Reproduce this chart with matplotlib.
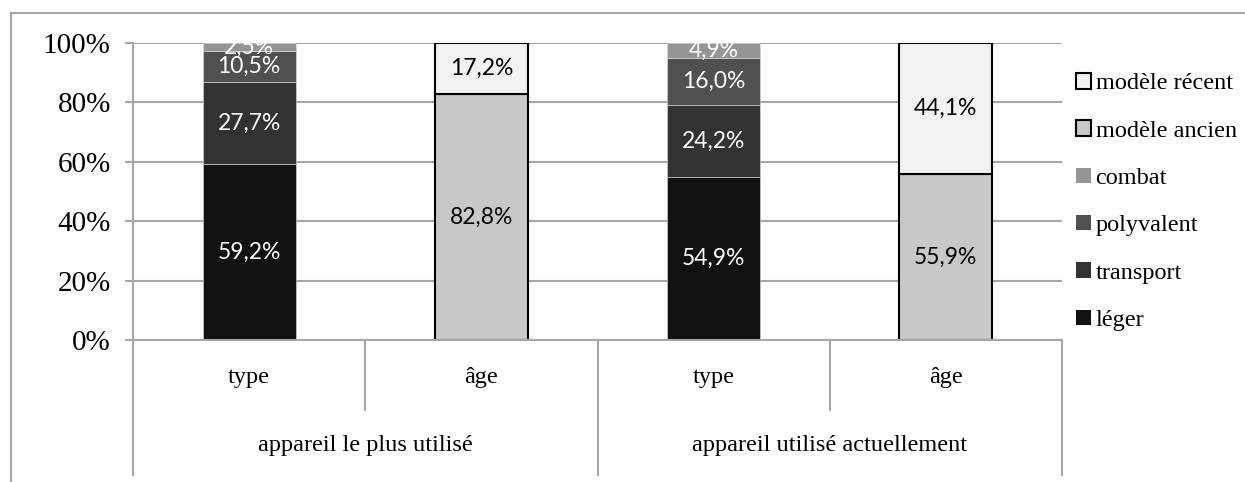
import matplotlib
matplotlib.use("Agg")
import matplotlib.pyplot as plt
from matplotlib.patches import Patch
import matplotlib.transforms as mtransforms

# ---- data ----
sub_labels = ["type", "âge", "type", "âge"]
group_labels = ["appareil le plus utilisé", "appareil utilisé actuellement"]

# type bars (bottom -> top)
type_series = ["léger", "transport", "polyvalent", "combat"]
type_values_1 = [59.2, 27.7, 10.5, 2.5]
type_values_2 = [54.9, 24.2, 16.0, 4.9]
# age bars (bottom -> top)
age_series = ["modèle ancien", "modèle récent"]
age_values_1 = [82.8, 17.2]
age_values_2 = [55.9, 44.1]

yticks = [0, 20, 40, 60, 80, 100]
ytick_labels = ["0%", "20%", "40%", "60%", "80%", "100%"]

type_colors = ["#111111", "#323232", "#505050", "#959595"]
age_colors = ["#c8c8c8", "#f2f2f2"]
grid_col = "#a6a6a6"

serif = ["Liberation Serif", "DejaVu Serif"]
sans = ["Lato", "DejaVu Sans"]

W, H = 1245, 482
fig = plt.figure(figsize=(W / 100, H / 100), dpi=100)
ax = fig.add_axes([133 / W, 1 - 340 / H, (1062 - 133) / W, (340 - 43) / H])

ax.set_xlim(0, 4)
ax.set_ylim(0, 100)
ax.set_yticks(yticks)
ax.set_yticklabels(ytick_labels, family=serif, fontsize=21)
ax.set_xticks([])
ax.yaxis.grid(True, color=grid_col, lw=1.5)
ax.set_axisbelow(True)
for s in ["top", "right"]:
    ax.spines[s].set_visible(False)
for s in ["left", "bottom"]:
    ax.spines[s].set_color(grid_col)
    ax.spines[s].set_linewidth(1.5)
ax.tick_params(axis="y", length=6, width=1.5, color=grid_col, pad=10)

bw = 0.4
xs = [0.5, 1.5, 2.5, 3.5]

def fmt(v):
    return f"{v:.1f}%".replace(".", ",")

# type bars
for x, vals in [(xs[0], type_values_1), (xs[2], type_values_2)]:
    bottom = 0
    for v, c in zip(vals, type_colors):
        ax.bar(x, v, bw, bottom=bottom, color=c, edgecolor="#e0e0e0", linewidth=0.4, zorder=2)
        ax.text(x, bottom + v / 2, fmt(v), ha="center", va="center", color="white",
                family=sans, fontsize=16.5, zorder=3)
        bottom += v

# age bars
for x, vals in [(xs[1], age_values_1), (xs[3], age_values_2)]:
    bottom = 0
    for v, c in zip(vals, age_colors):
        ax.bar(x, v, bw, bottom=bottom, color=c, edgecolor="black", linewidth=1.5, zorder=2)
        ax.text(x, bottom + v / 2, fmt(v), ha="center", va="center", color="black",
                family=sans, fontsize=16.5, zorder=3)
        bottom += v

# category axis below
trans = mtransforms.blended_transform_factory(ax.transData, ax.transAxes)
y_short = -(410 - 340) / 297
y_long = -(475 - 340) / 297
for xv, yb in [(0, y_long), (1, y_short), (2, y_long), (3, y_short), (4, y_long)]:
    ax.plot([xv, xv], [0, yb], transform=trans, color=grid_col, lw=1.5, clip_on=False)
for x, lab in zip(xs, sub_labels):
    ax.text(x, -(378 - 340) / 297, lab, transform=trans, ha="center", va="center",
            family=serif, fontsize=17.5)
for i, lab in enumerate(group_labels):
    ax.text(1 + 2 * i, -(445 - 340) / 297, lab, transform=trans, ha="center", va="center",
            family=serif, fontsize=17.5)

# legend
handles = [
    Patch(facecolor=age_colors[1], edgecolor="black", linewidth=1.5, label=age_series[1]),
    Patch(facecolor=age_colors[0], edgecolor="black", linewidth=1.5, label=age_series[0]),
    Patch(facecolor=type_colors[3], edgecolor="none", label=type_series[3]),
    Patch(facecolor=type_colors[2], edgecolor="none", label=type_series[2]),
    Patch(facecolor=type_colors[1], edgecolor="none", label=type_series[1]),
    Patch(facecolor=type_colors[0], edgecolor="none", label=type_series[0]),
]
fig.legend(handles=handles, loc="upper left", bbox_to_anchor=(1064 / W, 1 - 61 / H),
           frameon=False, prop={"family": serif, "size": 17.5}, handlelength=0.6,
           handleheight=0.6, handletextpad=0.2, labelspacing=1.07, borderpad=0)

# outer frame
fig.add_artist(plt.Line2D([11 / W, 11 / W], [0, 1 - 13 / H], color=grid_col, lw=1.5))
fig.add_artist(plt.Line2D([11 / W, 1], [1 - 13 / H, 1 - 13 / H], color=grid_col, lw=1.5))

fig.savefig("out.png", dpi=100)
